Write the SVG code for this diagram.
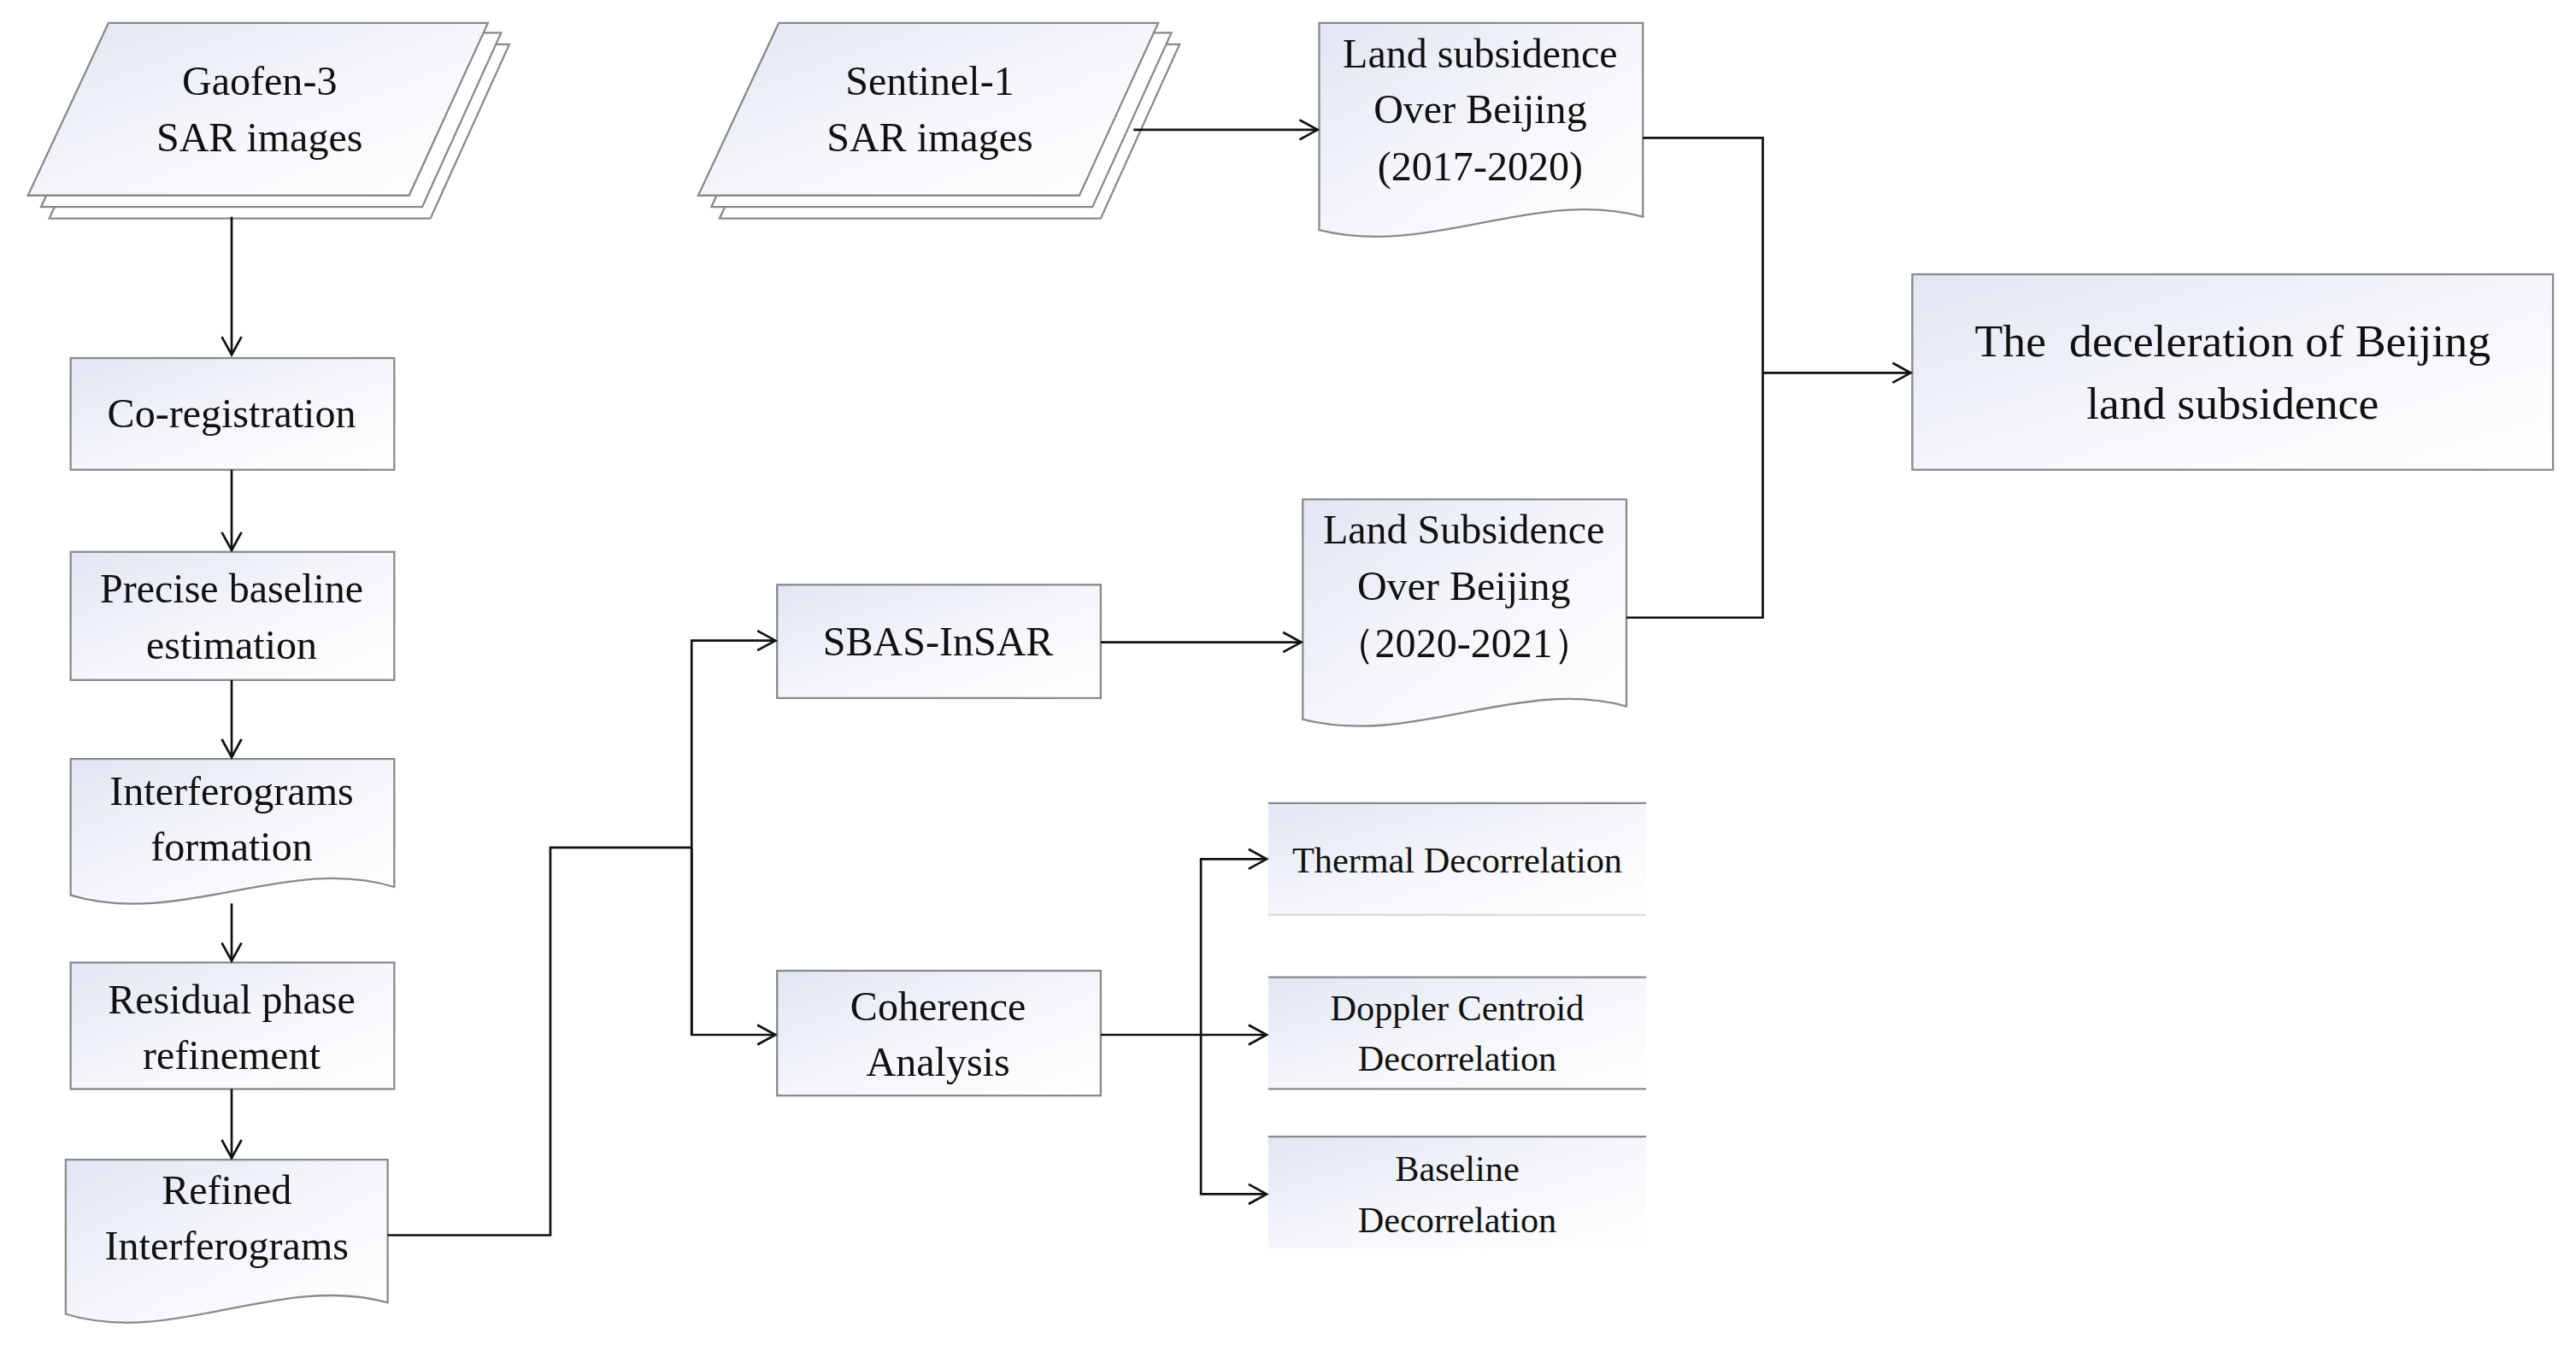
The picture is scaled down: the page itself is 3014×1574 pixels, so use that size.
<svg xmlns="http://www.w3.org/2000/svg" width="3014" height="1574" viewBox="0 0 3014 1574">
<style>
.n{fill:url(#g);stroke:#8a8a8a;stroke-width:1.2}
.b{fill:#fff;stroke:#8a8a8a;stroke-width:1.2}
.hl{stroke:#8a8a8a;stroke-width:1.2}
text{font-family:"Liberation Serif",serif;font-size:25px;fill:#111;text-anchor:middle}
.s{font-size:22px}
.c path{fill:none;stroke:#111;stroke-width:1.4}
</style>
<defs>
<linearGradient id="g" x1="0" y1="0" x2="1" y2="1"><stop offset="0" stop-color="#e2e6f3"/><stop offset="0.5" stop-color="#f5f6fb"/><stop offset="1" stop-color="#ffffff"/></linearGradient>
<marker id="a" markerUnits="userSpaceOnUse" markerWidth="14" markerHeight="14" refX="12" refY="7" orient="auto"><path d="M1,1 L12,7 L1,13" fill="none" stroke="#111" stroke-width="1.4"/></marker>
</defs>
<rect width="3014" height="1574" fill="#fff"/>
<g transform="scale(1.9222)">
<g id="gaofen">
<path class="b" d="M79,27 H310 L262,133 H30 Z"/>
<path class="b" d="M74,20 H305 L257,126 H25 Z"/>
<path class="n" d="M66,14 H297 L249,119 H17 Z"/>
<text x="158" y="58">Gaofen-3</text><text x="158" y="92">SAR images</text>
</g>
<g id="sentinel">
<path class="b" d="M487,27 H718 L670,133 H438 Z"/>
<path class="b" d="M482,20 H713 L665,126 H433 Z"/>
<path class="n" d="M474,14 H705 L657,119 H425 Z"/>
<text x="566" y="58">Sentinel-1</text><text x="566" y="92">SAR images</text>
</g>
<g id="coreg"><rect class="n" x="43" y="218" width="197" height="68"/><text x="141" y="260">Co-registration</text></g>
<g id="baseline"><rect class="n" x="43" y="336" width="197" height="78"/><text x="141" y="367">Precise baseline</text><text x="141" y="401">estimation</text></g>
<g id="interf"><path class="n" d="M43,462 H240 V540 C175,520 110,565 43,545 Z"/><text x="141" y="490">Interferograms</text><text x="141" y="524">formation</text></g>
<g id="residual"><rect class="n" x="43" y="586" width="197" height="77"/><text x="141" y="617">Residual phase</text><text x="141" y="651">refinement</text></g>
<g id="refined"><path class="n" d="M40,706 H236 V793 C170,775 105,820 40,800 Z"/><text x="138" y="733">Refined</text><text x="138" y="767">Interferograms</text></g>
<g id="sbas"><rect class="n" x="473" y="356" width="197" height="69"/><text x="571" y="399">SBAS-InSAR</text></g>
<g id="coh"><rect class="n" x="473" y="591" width="197" height="76"/><text x="571" y="621">Coherence</text><text x="571" y="655">Analysis</text></g>
<g id="ls2021"><path class="n" d="M793,304 H990 V430 C925,412 860,455 793,438 Z"/><text x="891" y="331">Land Subsidence</text><text x="891" y="365">Over Beijing</text><text x="891" y="400">（2020-2021）</text></g>
<g id="ls2017"><path class="n" d="M803,14 H1000 V132 C935,114 870,157 803,140 Z"/><text x="901" y="41">Land subsidence</text><text x="901" y="75">Over Beijing</text><text x="901" y="110">(2017-2020)</text></g>
<g id="final"><rect class="n" x="1164" y="167" width="390" height="119"/><text x="1359" y="217" style="font-size:28px" xml:space="preserve">The  deceleration of Beijing</text><text x="1359" y="255" style="font-size:28px">land subsidence</text></g>
<g id="thermal"><rect x="772" y="489" width="230" height="68" fill="url(#g)"/><line class="hl" x1="772" y1="489" x2="1002" y2="489"/><line class="hl" x1="772" y1="557" x2="1002" y2="557" stroke-opacity="0.3"/><text class="s" x="887" y="531">Thermal Decorrelation</text></g>
<g id="doppler"><rect x="772" y="595" width="230" height="68" fill="url(#g)"/><line class="hl" x1="772" y1="595" x2="1002" y2="595"/><line class="hl" x1="772" y1="663" x2="1002" y2="663"/><text class="s" x="887" y="621">Doppler Centroid</text><text class="s" x="887" y="652">Decorrelation</text></g>
<g id="basedec"><rect x="772" y="692" width="230" height="68" fill="url(#g)"/><line class="hl" x1="772" y1="692" x2="1002" y2="692"/><text class="s" x="887" y="719">Baseline</text><text class="s" x="887" y="750">Decorrelation</text></g>
<g class="c" id="connectors">
<path d="M141,132 V216" marker-end="url(#a)"/>
<path d="M141,286 V335" marker-end="url(#a)"/>
<path d="M141,414 V461" marker-end="url(#a)"/>
<path d="M141,550 V585" marker-end="url(#a)"/>
<path d="M141,663 V705" marker-end="url(#a)"/>
<path d="M236,752 H335 V516 H421"/>
<path d="M421,630 V390 H472" marker-end="url(#a)"/>
<path d="M421,516 V630 H472" marker-end="url(#a)"/>
<path d="M670,391 H792" marker-end="url(#a)"/>
<path d="M670,630 H771" marker-end="url(#a)"/>
<path d="M731,630 V523 H771" marker-end="url(#a)"/>
<path d="M731,630 V727 H771" marker-end="url(#a)"/>
<path d="M690,79 H802" marker-end="url(#a)"/>
<path d="M1000,84 H1073 V376 H990"/>
<path d="M1073,227 H1163" marker-end="url(#a)"/>
</g>
</g>
</svg>
